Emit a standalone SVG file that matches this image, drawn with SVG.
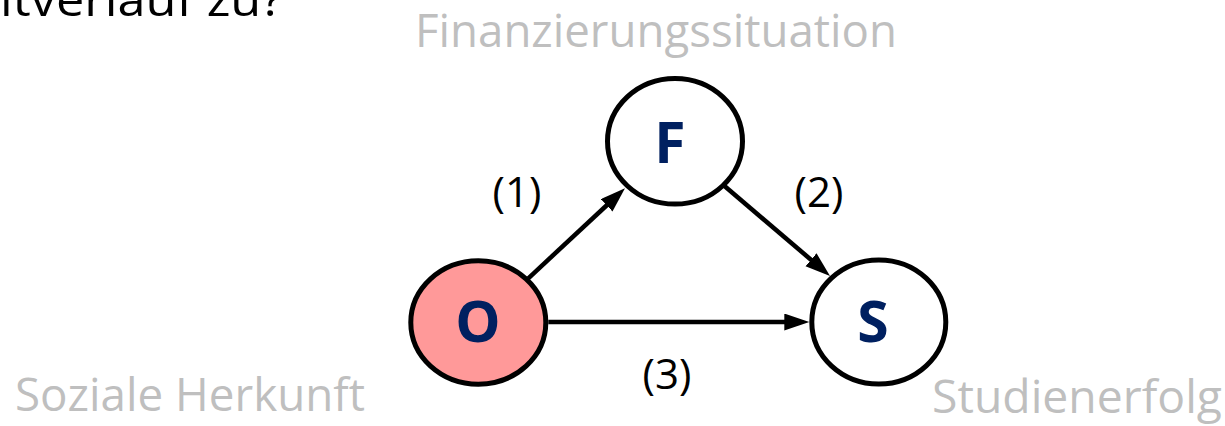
<svg xmlns="http://www.w3.org/2000/svg" width="1225" height="426" viewBox="0 0 1225 426">
<style>
.cap{font-family:"Open Sans","Noto Sans",sans-serif;font-size:45px;fill:#BFBFBF}
.lbl{font-family:"Open Sans","Noto Sans",sans-serif;font-size:42px;fill:#000;text-anchor:middle}
.nd{fill:#fff;stroke:#000;stroke-width:5}
.nt{font-family:"Open Sans","Noto Sans",sans-serif;font-weight:bold;font-size:57px;fill:#002060;text-anchor:middle}
.edge{stroke:#000;stroke-width:4.5;fill:none}
</style>
<defs>
<marker id="ah" markerUnits="userSpaceOnUse" markerWidth="27" markerHeight="19" refX="13" refY="8.5" orient="auto">
<path d="M0,0 L25,8.5 L0,17 z" fill="#000"/>
</marker>
</defs>
<rect width="1225" height="426" fill="#fff"/>
<text x="0" y="16" font-family="'Open Sans','Noto Sans',sans-serif" font-size="46" fill="#000" textLength="283" lengthAdjust="spacingAndGlyphs">itverlauf zu?</text>
<text class="cap" x="415" y="47" textLength="482" lengthAdjust="spacingAndGlyphs">Finanzierungssituation</text>
<text class="cap" x="15" y="411" textLength="350" lengthAdjust="spacingAndGlyphs">Soziale Herkunft</text>
<text class="cap" x="932" y="413" textLength="290" lengthAdjust="spacingAndGlyphs">Studienerfolg</text>
<g id="edges">
<line class="edge" x1="528.3" y1="278.3" x2="616.2" y2="196.5" marker-end="url(#ah)"/>
<line class="edge" x1="723.3" y1="185" x2="820.9" y2="268.2" marker-end="url(#ah)"/>
<line class="edge" x1="548.3" y1="322" x2="797.3" y2="322" marker-end="url(#ah)"/>
<text class="lbl" x="517" y="207">(1)</text>
<text class="lbl" x="819" y="207">(2)</text>
<text class="lbl" x="667" y="389">(3)</text>
</g>
<g id="node-F">
<ellipse class="nd" cx="675" cy="141.3" rx="67.5" ry="62.8"/>
<text class="nt" x="670" y="163">F</text>
</g>
<g id="node-O">
<ellipse class="nd" cx="478.3" cy="322.5" rx="67.5" ry="61.7" style="fill:#FF9999"/>
<text class="nt" x="478" y="342">O</text>
</g>
<g id="node-S">
<ellipse class="nd" cx="878.8" cy="322" rx="67" ry="62"/>
<text class="nt" x="873" y="342">S</text>
</g>
</svg>
